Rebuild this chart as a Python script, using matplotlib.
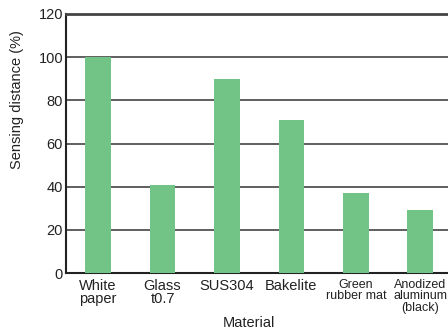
import matplotlib
matplotlib.use("Agg")
import matplotlib.pyplot as plt
import numpy as np

plt.rcParams['font.family'] = ['Liberation Sans', 'DejaVu Sans']

materials = ["White\npaper", "Glass\nt0.7", "SUS304", "Bakelite",
             "Green\nrubber mat", "Anodized\naluminum\n(black)"]
distance = [100, 41, 90, 71, 37, 29]
label_sizes = [10.5, 10.5, 10.5, 10.5, 9, 9]

fig = plt.figure(figsize=(4.48, 3.33), dpi=100)
ax = fig.add_axes([0.147, 0.180, 0.853, 0.778])

x = np.arange(len(materials))
ax.bar(x, distance, width=0.4, color="#72c486", zorder=3)

ax.set_ylim(0, 120)
ax.set_xlim(-0.5, 5.43)
ax.set_yticks(range(0, 121, 20))
ax.yaxis.grid(True, color="#444444", linewidth=1.2, zorder=0)

ax.spines['right'].set_visible(False)
ax.spines['top'].set_color("#444444")
ax.spines['top'].set_linewidth(2)
for side in ['left', 'bottom']:
    ax.spines[side].set_linewidth(1.5)
    ax.spines[side].set_color("#222222")

ax.set_xticks(x)
ax.set_xticklabels(materials, linespacing=0.95)
for lab, s in zip(ax.get_xticklabels(), label_sizes):
    lab.set_fontsize(s)
ax.tick_params(axis='both', length=0, colors="#222222")
ax.tick_params(axis='y', labelsize=10.5, pad=2)
ax.tick_params(axis='x', pad=4)

ax.set_ylabel("Sensing distance (%)", fontsize=10.5, color="#222222")
ax.yaxis.set_label_coords(-0.11, 0.67)
ax.set_xlabel("Material", fontsize=10.5, color="#222222")
ax.xaxis.set_label_coords(0.48, -0.165)

fig.savefig("out.png", dpi=100)
